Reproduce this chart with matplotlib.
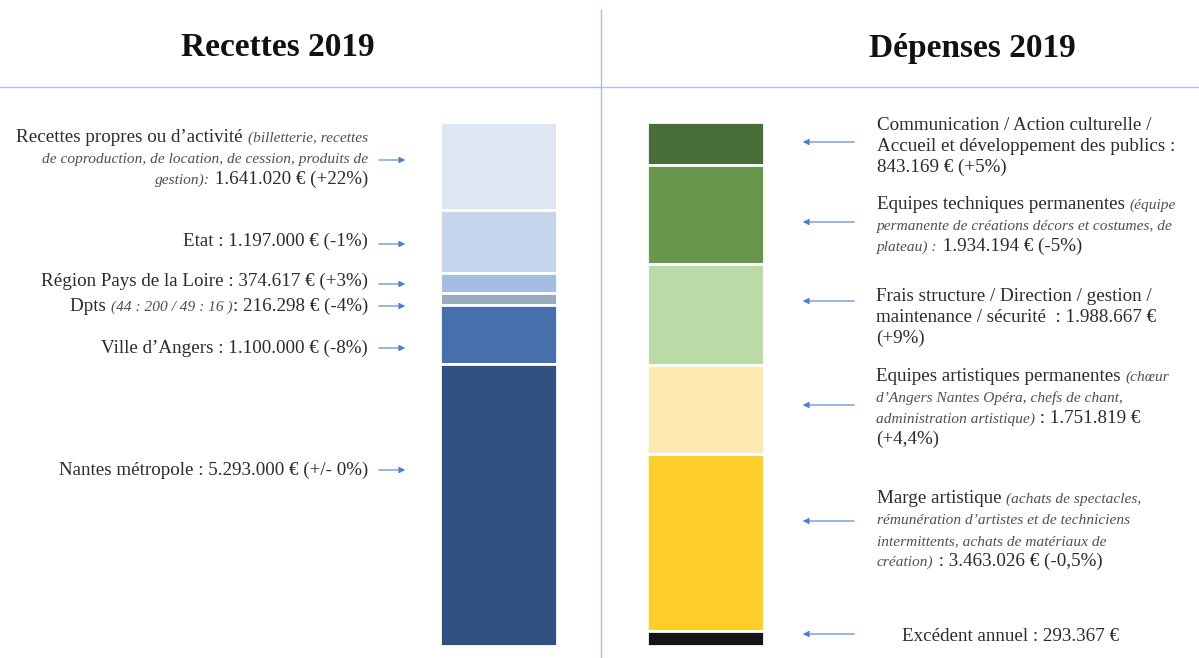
import numpy as np
import matplotlib
matplotlib.use("Agg")
import matplotlib.pyplot as plt

# --- data ---
rec_names = ["Recettes propres", "Etat", "Région Pays de la Loire", "Dpts",
             "Ville d'Angers", "Nantes métropole"]
rec_values = [1641020, 1197000, 374617, 216298, 1100000, 5293000]
rec_colors = ["#dfe6f3", "#c5d5ec", "#a5bde3", "#9aabbd", "#4670ab", "#2f5080"]

dep_names = ["Communication", "Equipes techniques", "Frais structure",
             "Equipes artistiques", "Marge artistique", "Excédent annuel"]
dep_values = [843169, 1934194, 1988667, 1751819, 3463026, 293367]
dep_colors = ["#4a6e37", "#67964c", "#badba5", "#fdeab1", "#fdcd2a", "#151515"]

# label text: each line is a list of (text, italic)
rec_labels = [
    [[("Recettes propres ou d\u2019activité ", False), ("(billetterie, recettes", True)],
     [("de coproduction, de location, de cession, produits de", True)],
     [("gestion):", True), (" 1.641.020 € (+22%)", False)]],
    [[("Etat : 1.197.000 € (-1%)", False)]],
    [[("Région Pays de la Loire : 374.617 € (+3%)", False)]],
    [[("Dpts ", False), ("(44 : 200 / 49 : 16 )", True), (": 216.298 € (-4%)", False)]],
    [[("Ville d\u2019Angers : 1.100.000 € (-8%)", False)]],
    [[("Nantes métropole : 5.293.000 € (+/- 0%)", False)]],
]
dep_labels = [
    [[("Communication / Action culturelle /", False)],
     [("Accueil et développement des publics :", False)],
     [("843.169 € (+5%)", False)]],
    [[("Equipes techniques permanentes ", False), ("(équipe", True)],
     [("permanente de créations décors et costumes, de", True)],
     [("plateau) :", True), (" 1.934.194 € (-5%)", False)]],
    [[("Frais structure / Direction / gestion /", False)],
     [("maintenance / sécurité  : 1.988.667 €", False)],
     [("(+9%)", False)]],
    [[("Equipes artistiques permanentes ", False), ("(chœur", True)],
     [("d\u2019Angers Nantes Opéra, chefs de chant,", True)],
     [("administration artistique)", True), (" : 1.751.819 €", False)],
     [("(+4,4%)", False)]],
    [[("Marge artistique ", False), ("(achats de spectacles,", True)],
     [("rémunération d\u2019artistes et de techniciens", True)],
     [("intermittents, achats de matériaux de", True)],
     [("création)", True), (" : 3.463.026 € (-0,5%)", False)]],
    [[("Excédent annuel : 293.367 €", False)]],
]

# layout (pixels from top)
rec_arrow_y = [160, 244, 284, 306, 348, 470]
rec_text_y = [142, 246, 286, 311, 353, 475]      # first baseline
dep_arrow_y = [142, 222, 301, 405, 521, 634]
dep_text_y = [130, 209, 301, 381, 503, 641]
dep_text_x = [877, 877, 876, 876, 877, 902]

W, H = 1199, 658
fig = plt.figure(figsize=(W / 100, H / 100), dpi=100)
over = fig.add_axes([0, 0, 1, 1])
over.set_xlim(0, W)
over.set_ylim(H, 0)
over.axis("off")

FONT = "Liberation Serif"
TXT = "#2b2b2b"
ITX = "#4f4f4f"
LINE_H = 21
renderer = fig.canvas.get_renderer()


def draw_block(lines, x, y0, align):
    for i, line in enumerate(lines):
        y = y0 + i * LINE_H
        pieces = line if align == "left" else line[::-1]
        cur = x
        for txt, it in pieces:
            t = over.text(cur, y, txt, ha=align, va="baseline", family=FONT,
                          fontsize=11.1 if it else 13.7, style="italic" if it else "normal",
                          color=ITX if it else TXT)
            w = t.get_window_extent(renderer).width
            cur = cur + w if align == "left" else cur - w


def stacked(values, colors, left_px):
    ax = fig.add_axes([(left_px - 1.5) / W, 1 - 646 / H, 117 / W, 524 / H])
    bottoms = np.concatenate([[0], np.cumsum(values)[:-1]])
    ax.bar(0, values, bottom=bottoms, width=1, color=colors,
           edgecolor="white", linewidth=2)
    ax.set_xlim(-0.5, 0.5)
    ax.set_ylim(sum(values), 0)
    ax.axis("off")
    return ax


stacked(rec_values, rec_colors, 441)
stacked(dep_values, dep_colors, 648)

# frame lines
over.plot([601, 601], [10, H], color="#a9bfe3", lw=1)
over.plot([0, W], [87, 87], color="#a9bfe3", lw=1)

over.text(278, 48, "Recettes 2019", ha="center", va="center", family=FONT,
          fontsize=24, fontweight="bold", color="#111111")
over.text(972, 48, "Dépenses 2019", ha="center", va="center", family=FONT,
          fontsize=24, fontweight="bold", color="#111111")

arrow = dict(arrowstyle="-|>", color="#4a7fd4", lw=0.8, mutation_scale=9)
for lab, ay, ty in zip(rec_labels, rec_arrow_y, rec_text_y):
    draw_block(lab, 368, ty, "right")
    over.annotate("", xy=(408, ay), xytext=(376, ay), arrowprops=arrow)

for lab, ay, ty, tx in zip(dep_labels, dep_arrow_y, dep_text_y, dep_text_x):
    draw_block(lab, tx, ty, "left")
    over.annotate("", xy=(800, ay), xytext=(857, ay), arrowprops=arrow)

fig.savefig("out.png", dpi=100)
